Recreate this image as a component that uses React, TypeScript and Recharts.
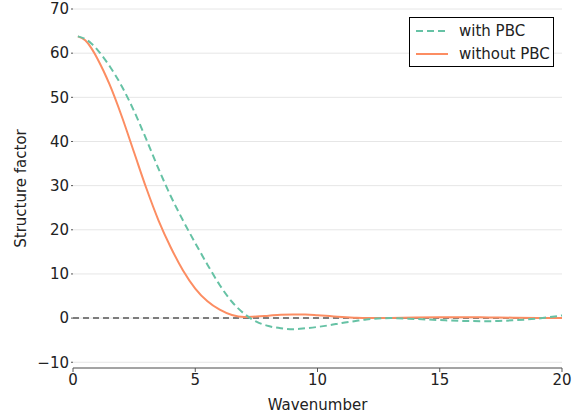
import { LineChart, Line, XAxis, YAxis, CartesianGrid, ReferenceLine, Label } from "recharts";

const wavenumbers = [0.2, 0.5, 0.75, 1, 1.25, 1.5, 2, 2.5, 3, 3.5, 4, 4.5, 5, 5.5, 6, 6.5, 7, 7.5, 8, 8.5, 9, 9.5, 10, 10.5, 11, 11.5, 12, 13, 14, 15, 16, 17, 18, 19, 20];
const withPbc = [63.8, 63.2, 62.2, 60.75, 59.0, 57.05, 52.45, 46.85, 40.45, 33.8, 27.6, 22.1, 17.0, 12.1, 7.5, 3.7, 1.0, -0.8, -1.8, -2.3, -2.5, -2.3, -2.0, -1.6, -1.1, -0.7, -0.3, 0.0, -0.2, -0.45, -0.65, -0.7, -0.5, -0.1, 0.6];
const withoutPbc = [63.8, 62.9, 61.15, 58.75, 55.95, 52.85, 45.6, 37.5, 29.4, 22.1, 16.0, 10.8, 6.7, 3.8, 1.9, 0.7, 0.25, 0.35, 0.55, 0.75, 0.8, 0.8, 0.65, 0.45, 0.25, 0.1, 0.0, 0.05, 0.15, 0.2, 0.2, 0.15, 0.1, 0.05, 0.0];
const xTicks = [0, 5, 10, 15, 20];
const yTicks = [-10, 0, 10, 20, 30, 40, 50, 60, 70];

const GREEN = "#66c2a5";
const ORANGE = "#fc8d62";
const FONT = "DejaVu Sans, sans-serif";
const TEXT = "#222";

const data = wavenumbers.map((k, i) => ({ k, withPbc: withPbc[i], withoutPbc: withoutPbc[i] }));

function LegendBox() {
  return (
    <div
      style={{
        position: "absolute",
        left: 409,
        top: 17,
        width: 145,
        height: 50,
        border: "1px solid #000",
        background: "#fff",
        fontFamily: FONT,
        fontSize: 15,
        color: TEXT,
        boxSizing: "border-box",
        padding: "1px 0 0 6px",
      }}
    >
      <div style={{ display: "flex", alignItems: "center", height: 23 }}>
        <svg width={32} height={4} style={{ marginRight: 11 }}>
          <line x1={0} y1={2} x2={32} y2={2} stroke={GREEN} strokeWidth={2} strokeDasharray="7 4" />
        </svg>
        with PBC
      </div>
      <div style={{ display: "flex", alignItems: "center", height: 23 }}>
        <svg width={32} height={4} style={{ marginRight: 11 }}>
          <line x1={0} y1={2} x2={32} y2={2} stroke={ORANGE} strokeWidth={2} />
        </svg>
        without PBC
      </div>
    </div>
  );
}

export default function App() {
  return (
    <div style={{ position: "absolute", left: 0, top: 0, width: 587, height: 414, background: "#fff" }}>
      <LineChart width={587} height={414} data={data} margin={{ top: 9, right: 25, left: 0, bottom: 0 }}>
        <CartesianGrid vertical={false} stroke="#e6e6e6" strokeWidth={1} />
        <XAxis
          dataKey="k"
          type="number"
          domain={[0, 20]}
          ticks={xTicks}
          height={46}
          stroke="#555"
          tickSize={4}
          tick={{ fontSize: 15, fill: TEXT, fontFamily: FONT }}
        >
          <Label value="Wavenumber" position="insideBottom" offset={4} style={{ fontSize: 15, fill: TEXT, fontFamily: FONT }} />
        </XAxis>
        <YAxis
          type="number"
          domain={[-11.3, 70]}
          ticks={yTicks}
          width={73}
          axisLine={false}
          tickSize={2}
          tickLine={{ stroke: "#555" }}
          tickFormatter={(v: number) => String(v).replace("-", "\u2212")}
          tick={{ fontSize: 15, fill: TEXT, fontFamily: FONT }}
          allowDataOverflow
        >
          <Label value="Structure factor" angle={-90} position="insideLeft" offset={21} style={{ fontSize: 15, fill: TEXT, fontFamily: FONT, textAnchor: "middle" }} />
        </YAxis>
        <ReferenceLine y={0} stroke="#555" strokeWidth={1.5} strokeDasharray="6 4" />
        <Line type="monotone" dataKey="withoutPbc" stroke={ORANGE} strokeWidth={2} dot={false} isAnimationActive={false} />
        <Line type="monotone" dataKey="withPbc" stroke={GREEN} strokeWidth={2} strokeDasharray="7 4" dot={false} isAnimationActive={false} />
      </LineChart>
      <LegendBox />
    </div>
  );
}
